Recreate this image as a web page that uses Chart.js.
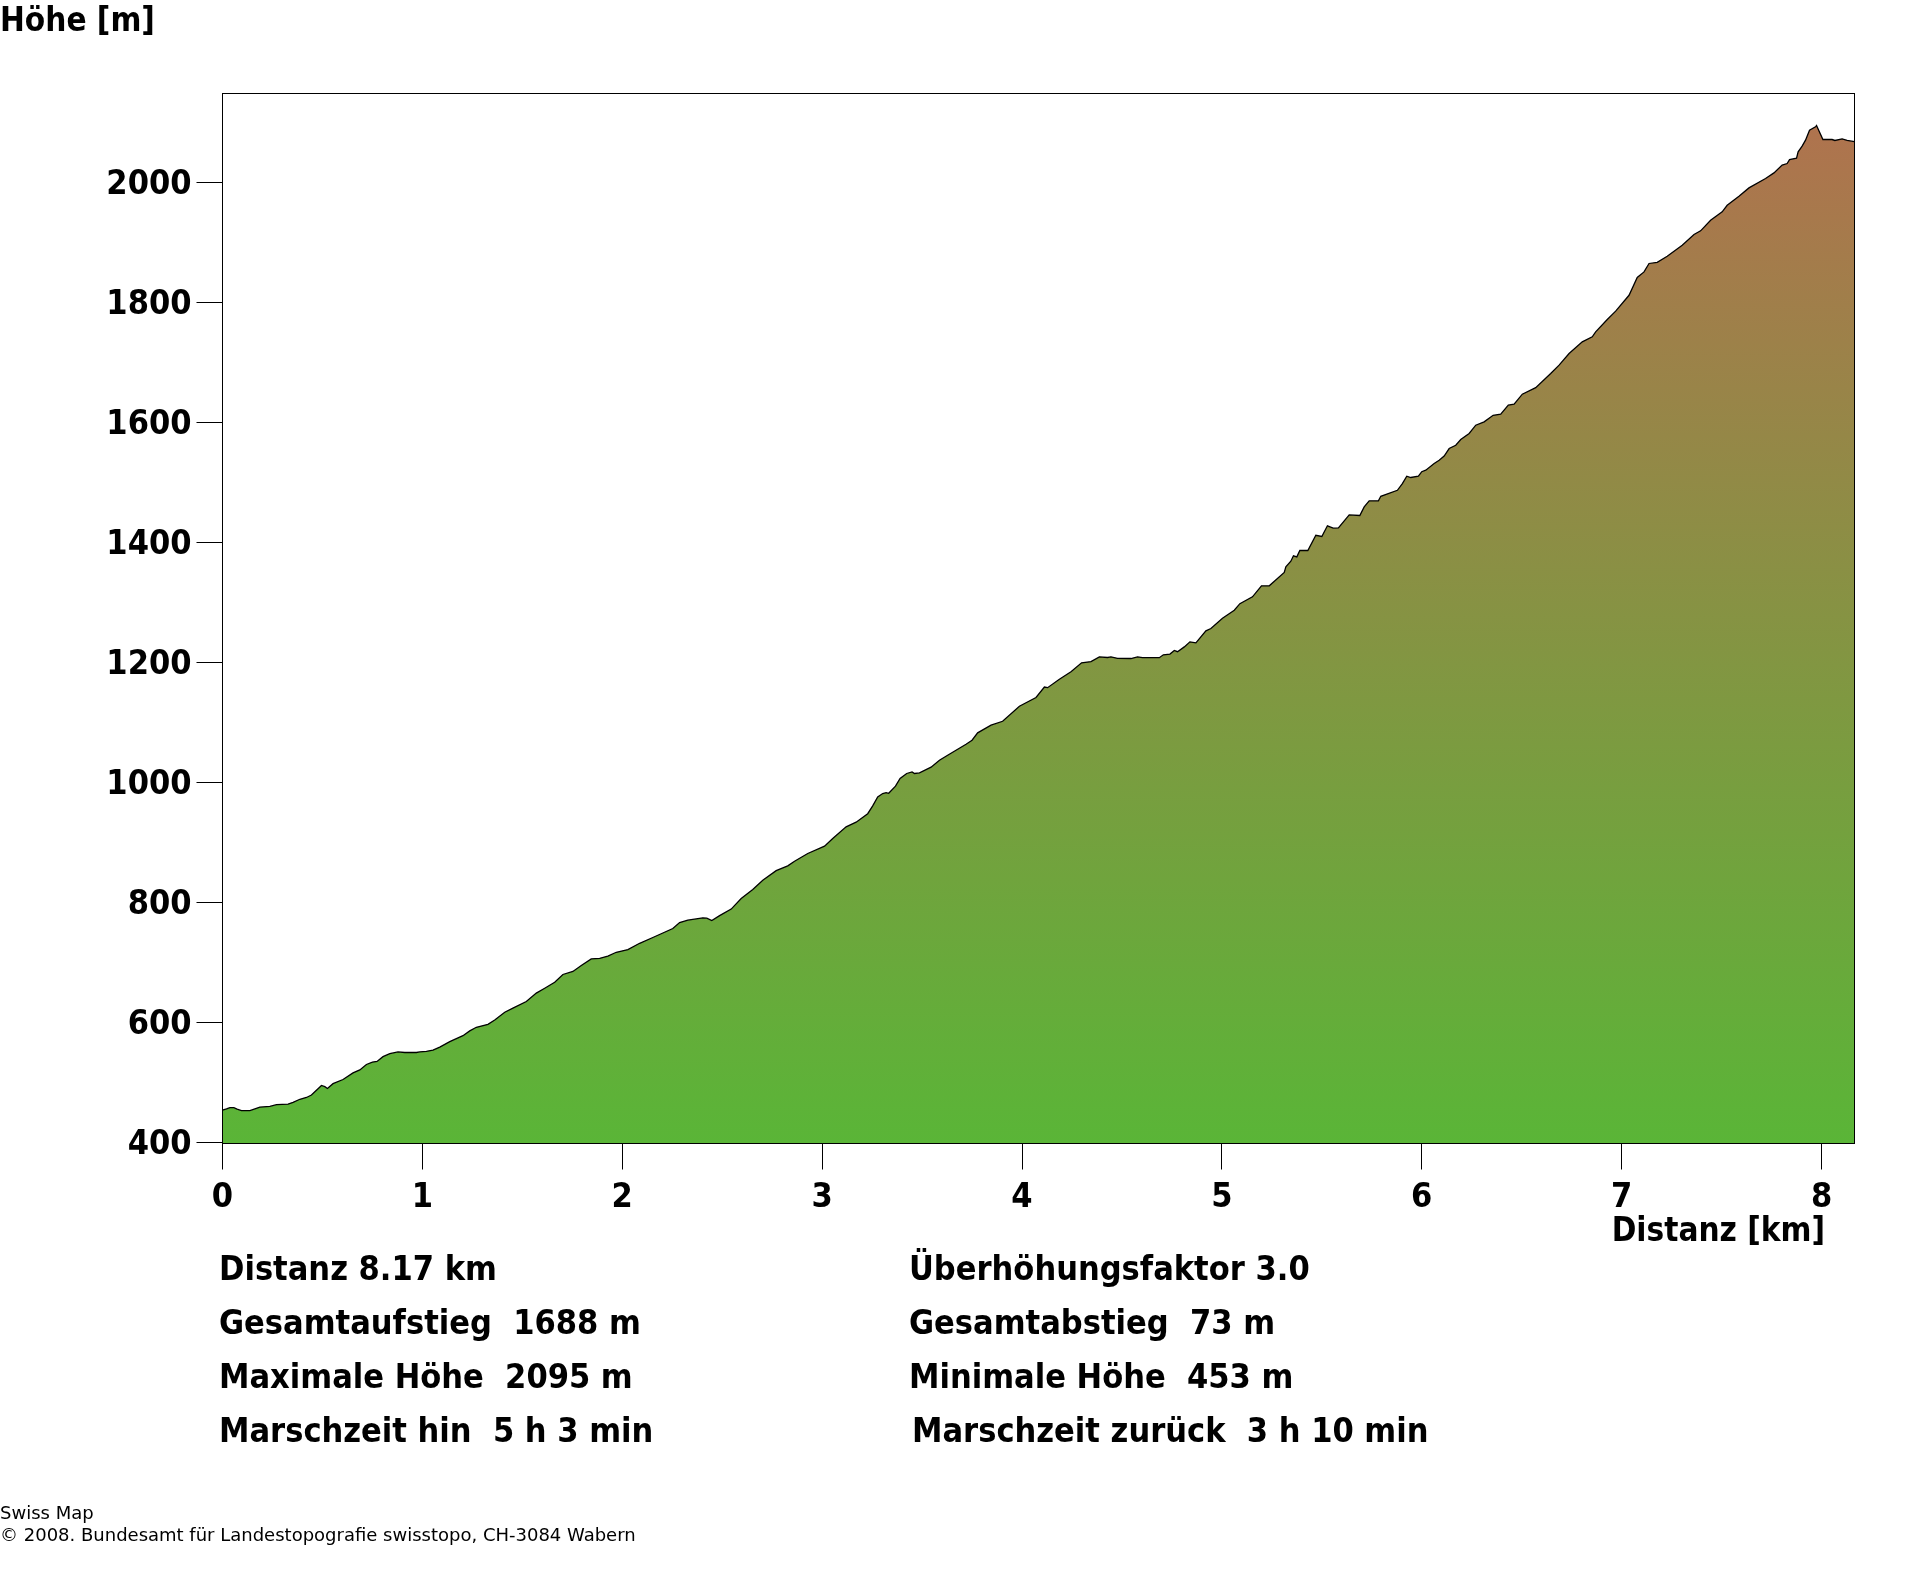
<!DOCTYPE html>
<html lang="de">
<head>
<meta charset="utf-8">
<title>Höhenprofil</title>
<script src="https://cdn.jsdelivr.net/npm/chart.js@4"></script>
<style>
  html, body { margin: 0; padding: 0; background: #fff; }
  #wrap { position: relative; width: 1920px; height: 1572px; overflow: hidden; }
  canvas { position: absolute; left: 0; top: 0; }
  .t { position: absolute; white-space: pre; color: #000; font: bold 34px "DejaVu Sans Condensed", "DejaVu Sans", sans-serif; line-height: 40px; }
  .title { font-size: 33px; }
  .foot { position: absolute; white-space: pre; color: #000; font: 18px "DejaVu Sans", sans-serif; line-height: 22px; left: 0; }
</style>
</head>
<body>
<div id="wrap">
  <canvas id="profile" width="1920" height="1572"></canvas>
</div>
<script>
const distKm = [
  0, .02, .037, .057, .073, .095, .137, .162, .187, .237, .27, .328, .353, .387, .42, .445, .47, .495, .512, .525,
  .553, .603, .653, .687, .72, .75, .773, .803, .837, .878, .912, .97, .987, 1.02, 1.053, 1.087, 1.137, 1.17, 1.203, 1.237,
  1.27, 1.328, 1.362, 1.412, 1.453, 1.52, 1.57, 1.612, 1.662, 1.703, 1.753, 1.795, 1.845, 1.887, 1.928, 1.97,
  2.028, 2.087, 2.153, 2.253, 2.287, 2.328, 2.403, 2.423, 2.448, 2.487, 2.545, 2.595, 2.653, 2.703, 2.77, 2.828, 2.862, 2.928,
  3.012, 3.053, 3.12, 3.17, 3.228, 3.253, 3.278, 3.303, 3.32, 3.333, 3.367, 3.39, 3.423, 3.45, 3.462, 3.487, 3.545, 3.587, 3.628,
  3.72, 3.75, 3.778, 3.845, 3.903, 3.987, 4.07, 4.112, 4.128, 4.187, 4.245, 4.298, 4.345, 4.387, 4.428, 4.445, 4.478, 4.545,
  4.578, 4.603, 4.687, 4.707, 4.74, 4.762, 4.778, 4.812, 4.84, 4.87, 4.92, 4.945, 5.003, 5.062, 5.09, 5.153, 5.198, 5.237,
  5.312, 5.32, 5.345, 5.358, 5.375, 5.39, 5.43, 5.47, 5.5, 5.528, 5.557, 5.583, 5.637, 5.69, 5.712, 5.737, 5.783, 5.795,
  5.878, 5.903, 5.925, 5.945, 5.983, 6.0, 6.02, 6.062, 6.087, 6.112, 6.137, 6.17, 6.195, 6.237, 6.27, 6.312, 6.357, 6.395,
  6.433, 6.462, 6.503, 6.57, 6.645, 6.687, 6.737, 6.803, 6.853, 6.87, 6.928, 6.97, 7.037, 7.078, 7.112, 7.137, 7.178, 7.228,
  7.303, 7.362, 7.395, 7.445, 7.503, 7.528, 7.587, 7.637, 7.72, 7.762, 7.803, 7.828, 7.84, 7.875, 7.883, 7.903, 7.92, 7.94,
  7.97, 7.975, 8.007, 8.053, 8.067, 8.103, 8.128, 8.165
];
const heightM = [
  454, 456, 458, 458, 455.5, 453, 453, 456, 459, 460, 463, 464, 467, 472, 475, 479, 487, 495, 493, 490,
  498, 505, 516, 521, 530, 534, 535, 543, 548, 551, 550, 550, 551, 552, 554, 559, 568, 573, 578, 586,
  592, 597, 604, 617, 624, 635, 649, 657, 667, 680, 685, 695, 706, 707, 710.5, 717,
  721.6, 732, 741.6, 756.6, 766.6, 770.5, 774.4, 773.8, 770, 778, 789, 806.6, 821.6, 837, 853, 861, 868.8, 881.6,
  893.8, 906.6, 926, 933.8, 948, 961, 976, 981.6, 983, 982, 993.8, 1006.6, 1015, 1017.7, 1015, 1016, 1025.5, 1037, 1045.5,
  1063.8, 1070.5, 1082.7, 1095.5, 1102, 1127, 1141.6, 1159, 1158, 1172, 1184.4, 1199.4, 1201.6, 1209.4, 1208.3, 1209.4, 1207, 1206.6,
  1209.4, 1208, 1208, 1212.8, 1214, 1220, 1218, 1226, 1234.4, 1232.7, 1252.8, 1256.6, 1273.8, 1287, 1298, 1309.4, 1327.8, 1327.8,
  1350, 1359.4, 1368.8, 1377.8, 1376, 1386.6, 1386.6, 1412, 1410, 1427.8, 1423.8, 1424.4, 1446, 1445, 1459.4, 1469.4, 1469.4, 1477,
  1487, 1498, 1510.5, 1508.3, 1510.5, 1518, 1520.5, 1531.6, 1537, 1544, 1556.6, 1562, 1571.6, 1581.6, 1595.5, 1601, 1612, 1613.9,
  1628.9, 1630.5, 1647.2, 1658, 1681.6, 1695.5, 1715, 1734.4, 1742.8, 1751, 1771.6, 1785.5, 1812, 1841.6, 1851, 1865, 1867, 1877,
  1895.5, 1913.3, 1919.4, 1937, 1951, 1962, 1977, 1991, 2006.6, 2016, 2028.9, 2031.6, 2038, 2040.5, 2051, 2060.5, 2070.5, 2087,
  2092.8, 2095, 2071.6, 2071.6, 2070, 2072.8, 2070, 2068
];
const yTicks = [400, 600, 800, 1000, 1200, 1400, 1600, 1800, 2000];
const xTicks = [0, 1, 2, 3, 4, 5, 6, 7, 8];
const statsLeft = ['Distanz 8.17 km', 'Gesamtaufstieg  1688 m', 'Maximale Höhe  2095 m', 'Marschzeit hin  5 h 3 min'];
const statsRight = ['Überhöhungsfaktor 3.0', 'Gesamtabstieg  73 m', 'Minimale Höhe  453 m', 'Marschzeit zurück  3 h 10 min'];
const footer = ['Swiss Map', '© 2008. Bundesamt für Landestopografie swisstopo, CH-3084 Wabern'];

const wrap = document.getElementById('wrap');
function addText(cls, text, css) {
  const d = document.createElement('div');
  d.className = cls;
  d.textContent = text;
  Object.assign(d.style, css);
  wrap.appendChild(d);
}
addText('t title', 'Höhe [m]', { left: '0px', top: '0px' });
addText('t title', 'Distanz [km]', { right: '95px', top: '1210px' });
statsLeft.forEach((s, i) => addText('t', s, { left: '219px', top: (1248 + i * 54) + 'px' }));
statsRight.forEach((s, i) => addText('t', s, { left: (i === 3 ? 912 : 909) + 'px', top: (1248 + i * 54) + 'px' }));
footer.forEach((s, i) => addText('foot', s, { top: (1502 + i * 22) + 'px' }));

function profileFill(ctx) {
  const { chart } = ctx;
  if (!chart.chartArea) return '#5ab537';
  const y = chart.scales.y;
  const g = chart.ctx.createLinearGradient(0, y.getPixelForValue(400), 0, y.getPixelForValue(2095));
  g.addColorStop(0, '#5ab537');
  g.addColorStop(1, '#af734e');
  return g;
}

// box around the plot, and y labels sit a bit below their tick in the original
const frame = {
  id: 'frame',
  beforeDraw(chart) {
    chart.scales.y.getLabelItems(chart.chartArea).forEach(item => { item.textOffset = 3; });
  },
  afterDraw(chart) {
    const { ctx, chartArea: a } = chart;
    const l = Math.floor(a.left) + .5, t = Math.floor(a.top) + .5;
    const r = Math.floor(a.right) + .5, b = Math.floor(a.bottom) + .5;
    ctx.save();
    ctx.strokeStyle = '#000';
    ctx.lineWidth = 1;
    ctx.strokeRect(l, t, r - l, b - t);
    ctx.restore();
  }
};

const tickFont = { family: '"DejaVu Sans Condensed", "DejaVu Sans", sans-serif', weight: 'bold', size: 34 };

new Chart(document.getElementById('profile'), {
  type: 'line',
  data: {
    datasets: [{
      data: distKm.map((d, i) => ({ x: d, y: heightM[i] })),
      borderColor: '#000',
      borderWidth: 1.3,
      tension: 0,
      pointRadius: 0,
      fill: 'origin',
      backgroundColor: profileFill
    }]
  },
  options: {
    responsive: false,
    animation: false,
    devicePixelRatio: 1,
    layout: { padding: { top: 93.5, right: 65.5, left: 0, bottom: 0 } },
    plugins: { legend: { display: false }, tooltip: { enabled: false } },
    scales: {
      x: {
        type: 'linear',
        min: 0,
        max: 8.165,
        afterFit: s => { s.height = 428.5; },
        afterBuildTicks: s => { s.ticks = xTicks.map(v => ({ value: v })); },
        border: { color: '#000', width: 1 },
        grid: { drawOnChartArea: false, drawTicks: true, tickLength: 26, color: '#000', lineWidth: 1 },
        ticks: {
          color: '#000', padding: 8, maxRotation: 0, autoSkip: false,
          callback: v => String(v),
          font: tickFont
        }
      },
      y: {
        type: 'linear',
        min: 398.3,
        max: 2148.3,
        afterFit: s => { s.width = 222.5; },
        afterBuildTicks: s => { s.ticks = yTicks.map(v => ({ value: v })); },
        border: { color: '#000', width: 1 },
        grid: { drawOnChartArea: false, drawTicks: true, tickLength: 26, color: '#000', lineWidth: 1 },
        ticks: {
          color: '#000', padding: 5, autoSkip: false,
          callback: v => String(v),
          font: tickFont
        }
      }
    }
  },
  plugins: [frame]
});
</script>
</body>
</html>
